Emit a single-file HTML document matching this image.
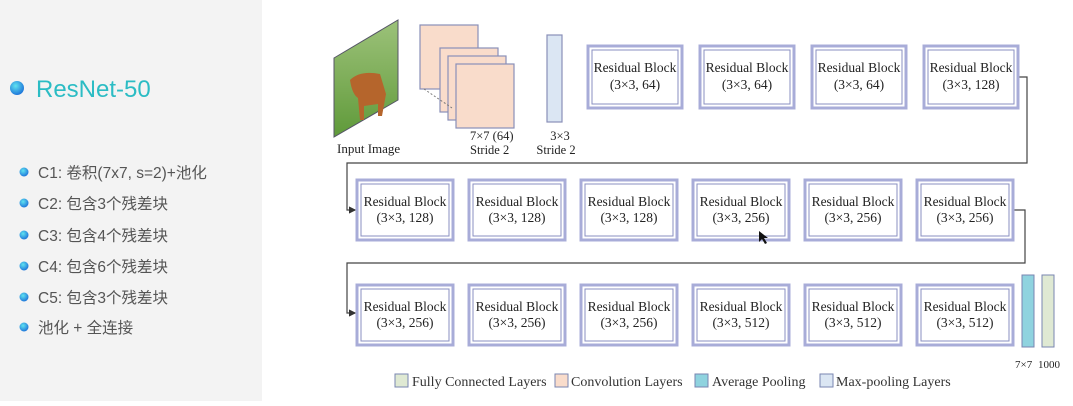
<!DOCTYPE html>
<html><head><meta charset="utf-8"><style>
body{margin:0;width:1073px;height:401px;overflow:hidden;background:#fff}
</style></head><body>
<svg width="1073" height="401" xmlns="http://www.w3.org/2000/svg">
<defs>
<radialGradient id="dot" cx="0.4" cy="0.35" r="0.7"><stop offset="0" stop-color="#5fe3f0"/><stop offset="1" stop-color="#1a6fd8"/></radialGradient>
<linearGradient id="img" x1="0" y1="0" x2="0" y2="1"><stop offset="0" stop-color="#9cc27a"/><stop offset="0.5" stop-color="#7fae5a"/><stop offset="1" stop-color="#5f9a3a"/></linearGradient>
<marker id="ar" markerWidth="6" markerHeight="6" refX="5" refY="3" orient="auto"><path d="M0,0 L6,3 L0,6z" fill="#333"/></marker>
</defs>
<rect x="0" y="0" width="262" height="401" fill="#f3f3f3"/>
<g font-family="Liberation Sans, Noto Sans CJK SC, sans-serif">
<circle cx="17" cy="88" r="7" fill="url(#dot)"/>
<text x="36" y="97" font-size="24" fill="#2bbcc4">ResNet-50</text>
<g font-size="15.5" fill="#555">
<circle cx="24" cy="172" r="4.5" fill="url(#dot)"/><text x="38" y="178">C1: 卷积(7x7, s=2)+池化</text>
<circle cx="24" cy="203" r="4.5" fill="url(#dot)"/><text x="38" y="209">C2: 包含3个残差块</text>
<circle cx="24" cy="235" r="4.5" fill="url(#dot)"/><text x="38" y="241">C3: 包含4个残差块</text>
<circle cx="24" cy="266" r="4.5" fill="url(#dot)"/><text x="38" y="272">C4: 包含6个残差块</text>
<circle cx="24" cy="297" r="4.5" fill="url(#dot)"/><text x="38" y="303">C5: 包含3个残差块</text>
<circle cx="24" cy="327" r="4.5" fill="url(#dot)"/><text x="38" y="333">池化 + 全连接</text>
</g></g>
<polygon points="334,58 398,20 398,100 334,137" fill="url(#img)" stroke="#556" stroke-width="1"/>
<path d="M350,80 q10,-10 30,-6 l6,20 l-4,22 l-4,0 l0,-12 l-14,2 l0,14 l-4,0 l-2,-22 q-6,-4 -8,-18z" fill="#b5652c"/>
<g font-family="Liberation Serif, serif" fill="#222">
<text x="337" y="153" font-size="13">Input Image</text>
<text x="470" y="140" font-size="12.5">7×7 (64)</text>
<text x="470" y="154" font-size="12.5">Stride 2</text>
<text x="560" y="140" font-size="12.5" text-anchor="middle">3×3</text>
<text x="556" y="154" font-size="12.5" text-anchor="middle">Stride 2</text>
</g>
<g fill="#f9dccb" stroke="#8a8fb8" stroke-width="1.2">
<rect x="420" y="25" width="58" height="64"/>
<rect x="440" y="48" width="58" height="64"/>
<rect x="448" y="56" width="58" height="64"/>
<rect x="456" y="64" width="58" height="64"/>
</g>
<line x1="424" y1="89" x2="452" y2="108" stroke="#777" stroke-dasharray="2,2"/>
<rect x="547" y="35" width="15" height="87" fill="#dbe6f3" stroke="#8a8fb8" stroke-width="1.2"/>
<g fill="none" stroke="#444" stroke-width="1.2">
<polyline points="1018,77 1027,77 1027,163 347,163 347,210 355,210" marker-end="url(#ar)"/>
<polyline points="1013,210 1025,210 1025,263 347,263 347,313 355,313" marker-end="url(#ar)"/>
</g>
<g font-family="Liberation Serif, serif" font-size="13.5" fill="#222" text-anchor="middle">
<g transform="translate(588,46)"><rect x="0" y="0" width="94" height="62" fill="#fff" stroke="#a8acd8" stroke-width="3"/><rect x="4" y="4" width="86" height="54" fill="none" stroke="#8a8fc0" stroke-width="1"/><text x="47" y="26">Residual Block</text><text x="47" y="43">(3×3, 64)</text></g>
<g transform="translate(700,46)"><rect x="0" y="0" width="94" height="62" fill="#fff" stroke="#a8acd8" stroke-width="3"/><rect x="4" y="4" width="86" height="54" fill="none" stroke="#8a8fc0" stroke-width="1"/><text x="47" y="26">Residual Block</text><text x="47" y="43">(3×3, 64)</text></g>
<g transform="translate(812,46)"><rect x="0" y="0" width="94" height="62" fill="#fff" stroke="#a8acd8" stroke-width="3"/><rect x="4" y="4" width="86" height="54" fill="none" stroke="#8a8fc0" stroke-width="1"/><text x="47" y="26">Residual Block</text><text x="47" y="43">(3×3, 64)</text></g>
<g transform="translate(924,46)"><rect x="0" y="0" width="94" height="62" fill="#fff" stroke="#a8acd8" stroke-width="3"/><rect x="4" y="4" width="86" height="54" fill="none" stroke="#8a8fc0" stroke-width="1"/><text x="47" y="26">Residual Block</text><text x="47" y="43">(3×3, 128)</text></g>

<g transform="translate(357,180)"><rect x="0" y="0" width="96" height="60" fill="#fff" stroke="#a8acd8" stroke-width="3"/><rect x="4" y="4" width="88" height="52" fill="none" stroke="#8a8fc0" stroke-width="1"/><text x="48" y="26">Residual Block</text><text x="48" y="42">(3×3, 128)</text></g>
<g transform="translate(469,180)"><rect x="0" y="0" width="96" height="60" fill="#fff" stroke="#a8acd8" stroke-width="3"/><rect x="4" y="4" width="88" height="52" fill="none" stroke="#8a8fc0" stroke-width="1"/><text x="48" y="26">Residual Block</text><text x="48" y="42">(3×3, 128)</text></g>
<g transform="translate(581,180)"><rect x="0" y="0" width="96" height="60" fill="#fff" stroke="#a8acd8" stroke-width="3"/><rect x="4" y="4" width="88" height="52" fill="none" stroke="#8a8fc0" stroke-width="1"/><text x="48" y="26">Residual Block</text><text x="48" y="42">(3×3, 128)</text></g>
<g transform="translate(693,180)"><rect x="0" y="0" width="96" height="60" fill="#fff" stroke="#a8acd8" stroke-width="3"/><rect x="4" y="4" width="88" height="52" fill="none" stroke="#8a8fc0" stroke-width="1"/><text x="48" y="26">Residual Block</text><text x="48" y="42">(3×3, 256)</text></g>
<g transform="translate(805,180)"><rect x="0" y="0" width="96" height="60" fill="#fff" stroke="#a8acd8" stroke-width="3"/><rect x="4" y="4" width="88" height="52" fill="none" stroke="#8a8fc0" stroke-width="1"/><text x="48" y="26">Residual Block</text><text x="48" y="42">(3×3, 256)</text></g>
<g transform="translate(917,180)"><rect x="0" y="0" width="96" height="60" fill="#fff" stroke="#a8acd8" stroke-width="3"/><rect x="4" y="4" width="88" height="52" fill="none" stroke="#8a8fc0" stroke-width="1"/><text x="48" y="26">Residual Block</text><text x="48" y="42">(3×3, 256)</text></g>

<g transform="translate(357,285)"><rect x="0" y="0" width="96" height="60" fill="#fff" stroke="#a8acd8" stroke-width="3"/><rect x="4" y="4" width="88" height="52" fill="none" stroke="#8a8fc0" stroke-width="1"/><text x="48" y="26">Residual Block</text><text x="48" y="42">(3×3, 256)</text></g>
<g transform="translate(469,285)"><rect x="0" y="0" width="96" height="60" fill="#fff" stroke="#a8acd8" stroke-width="3"/><rect x="4" y="4" width="88" height="52" fill="none" stroke="#8a8fc0" stroke-width="1"/><text x="48" y="26">Residual Block</text><text x="48" y="42">(3×3, 256)</text></g>
<g transform="translate(581,285)"><rect x="0" y="0" width="96" height="60" fill="#fff" stroke="#a8acd8" stroke-width="3"/><rect x="4" y="4" width="88" height="52" fill="none" stroke="#8a8fc0" stroke-width="1"/><text x="48" y="26">Residual Block</text><text x="48" y="42">(3×3, 256)</text></g>
<g transform="translate(693,285)"><rect x="0" y="0" width="96" height="60" fill="#fff" stroke="#a8acd8" stroke-width="3"/><rect x="4" y="4" width="88" height="52" fill="none" stroke="#8a8fc0" stroke-width="1"/><text x="48" y="26">Residual Block</text><text x="48" y="42">(3×3, 512)</text></g>
<g transform="translate(805,285)"><rect x="0" y="0" width="96" height="60" fill="#fff" stroke="#a8acd8" stroke-width="3"/><rect x="4" y="4" width="88" height="52" fill="none" stroke="#8a8fc0" stroke-width="1"/><text x="48" y="26">Residual Block</text><text x="48" y="42">(3×3, 512)</text></g>
<g transform="translate(917,285)"><rect x="0" y="0" width="96" height="60" fill="#fff" stroke="#a8acd8" stroke-width="3"/><rect x="4" y="4" width="88" height="52" fill="none" stroke="#8a8fc0" stroke-width="1"/><text x="48" y="26">Residual Block</text><text x="48" y="42">(3×3, 512)</text></g>
</g>
<rect x="1022" y="275" width="12" height="72" fill="#8fd3df" stroke="#7a86b0"/>
<rect x="1042" y="275" width="12" height="72" fill="#dfe9d3" stroke="#7a86b0"/>
<g font-family="Liberation Serif, serif" font-size="11" fill="#222">
<text x="1015" y="368">7×7</text><text x="1038" y="368">1000</text>
</g>
<g font-family="Liberation Serif, serif" font-size="14" fill="#333" stroke-width="1">
<rect x="395" y="374" width="13" height="13" fill="#dfe9d3" stroke="#7a86b0"/><text x="412" y="386">Fully Connected Layers</text>
<rect x="555" y="374" width="13" height="13" fill="#f9dccb" stroke="#7a86b0"/><text x="571" y="386">Convolution Layers</text>
<rect x="695" y="374" width="13" height="13" fill="#8fd3df" stroke="#7a86b0"/><text x="712" y="386">Average Pooling</text>
<rect x="820" y="374" width="13" height="13" fill="#dbe6f3" stroke="#7a86b0"/><text x="836" y="386">Max-pooling Layers</text>
</g>
<path d="M759,231 l0,11 l3,-3 l3,5 l2,-1 l-3,-5 l4,0z" fill="#111"/>
</svg>
</body></html>
